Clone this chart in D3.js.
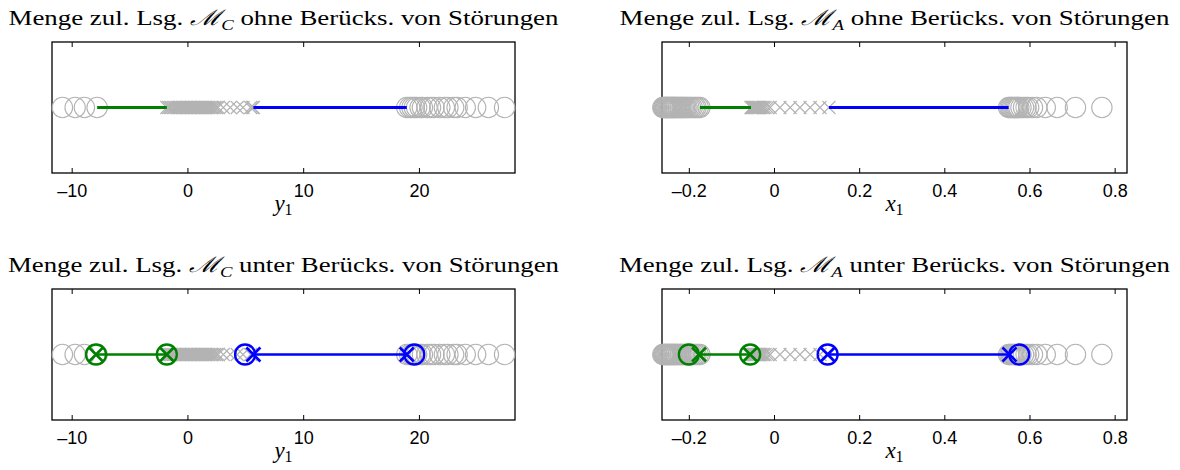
<!DOCTYPE html>
<html>
<head>
<meta charset="utf-8">
<script src="https://cdn.jsdelivr.net/npm/d3@7"></script>
<style>
  body { margin:0; background:#fff; }
  svg { display:block; }
</style>
</head>
<body>
<svg id="chart" width="1180" height="470"></svg>
<script>
// --- data ---
// y1 (controller) axis, left column
var yGrayCircles = [-10.8, -9.7, -8.9, -7.8, 18.95, 19.2, 19.4, 19.6, 19.8, 20.1, 20.3, 20.7, 21.0, 21.3, 21.8, 22.2, 22.5, 23.0, 23.3, 24.0, 24.9, 26.0, 27.4];
var yGrayCrosses = [-1.78, -1.62, -1.48, -1.35, -1.2, -1.08, -0.95, -0.82, -0.7, -0.58, -0.45, -0.33, -0.2, -0.1, 0.02, 0.15, 0.27, 0.38, 0.5, 0.62,
                    0.75, 0.86, 0.97, 1.1, 1.22, 1.33, 1.45, 1.58, 1.7, 1.83, 1.95, 2.08, 2.2, 2.35, 2.5, 2.65, 3.1, 3.7, 4.3, 4.8, 5.45, 5.6, 5.7];
var yGreenRange = [-7.8, -1.78];
var yBlueRange = [5.7, 18.95];
var yGreenRobust = [-7.9, -1.78];   // circles, bottom panel
var yBlueRobust = [4.98, 19.6];
var yTicks = [-10, 0, 10, 20];

// x1 (state) axis, right column
var xGrayCircles = [-0.261, -0.259, -0.257, -0.255, -0.253, -0.251, -0.249, -0.247, -0.245, -0.243, -0.241, -0.239, -0.237, -0.235, -0.233, -0.231,
                    -0.229, -0.226, -0.224, -0.221, -0.219, -0.216, -0.213, -0.21, -0.207, -0.204, -0.2, -0.196, -0.192, -0.187, -0.183, -0.178, -0.174,
                    0.551, 0.554, 0.557, 0.56, 0.563, 0.566, 0.569, 0.572, 0.575, 0.58, 0.586, 0.592, 0.598, 0.607, 0.617, 0.637, 0.665, 0.708, 0.77];
var xGrayCrosses = [-0.054, -0.052, -0.05, -0.048, -0.046, -0.044, -0.042, -0.04, -0.038, -0.036, -0.034, -0.031, -0.028, -0.025, -0.021,
                    -0.015, -0.009, 0.014, 0.038, 0.061, 0.085, 0.108, 0.129];
var xGreenRange = [-0.174, -0.054];
var xBlueRange = [0.129, 0.551];
var xGreenRobustX = [-0.176, -0.056];
var xGreenRobust = [-0.2, -0.056];
var xBlueRobustX = [0.126, 0.553];
var xBlueRobust = [0.126, 0.576];
var xTicks = [-0.2, 0, 0.2, 0.4, 0.6, 0.8];

var gray = "#b3b3b3", green = "#008000", blue = "#0000ff";

var svg = d3.select("#chart");

var panels = [
  {x0:52,  x1:515,  y0:42,  y1:173, dom:[-11.7, 28.3], ticks:yTicks, sub:"C", label:"y", top:true,
   circ:yGrayCircles, cross:yGrayCrosses, g:yGreenRange, b:yBlueRange},
  {x0:662, x1:1127, y0:42,  y1:173, dom:[-0.263, 0.829], ticks:xTicks, sub:"A", label:"x", top:true,
   circ:xGrayCircles, cross:xGrayCrosses, g:xGreenRange, b:xBlueRange},
  {x0:52,  x1:515,  y0:289, y1:420, dom:[-11.7, 28.3], ticks:yTicks, sub:"C", label:"y", top:false,
   circ:yGrayCircles, cross:yGrayCrosses, g:yGreenRobust, b:yBlueRange,
   gX:yGreenRobust, gO:yGreenRobust, bX:yBlueRange, bO:yBlueRobust},
  {x0:662, x1:1127, y0:289, y1:420, dom:[-0.263, 0.829], ticks:xTicks, sub:"A", label:"x", top:false,
   circ:xGrayCircles, cross:xGrayCrosses, g:xGreenRobustX, b:xBlueRobustX,
   gX:xGreenRobustX, gO:xGreenRobust, bX:xBlueRobustX, bO:xBlueRobust}
];

function fmt(d){
  var s = String(+Math.abs(d).toFixed(1));
  return (d < 0 ? "\u2013" : "") + s;
}

function cross(sel, cx, cy, h, col, w){
  sel.append("path")
    .attr("d", "M"+(cx-h)+","+(cy-h)+"L"+(cx+h)+","+(cy+h)+"M"+(cx-h)+","+(cy+h)+"L"+(cx+h)+","+(cy-h))
    .attr("stroke", col).attr("stroke-width", w).attr("fill","none");
}

panels.forEach(function(p){
  var g = svg.append("g");
  var x = d3.scaleLinear().domain(p.dom).range([p.x0, p.x1]);
  var cy = (p.y0 + p.y1)/2;

  // title (CM is wide, so stretch the serif to the same width)
  var t = g.append("text")
    .attr("x", (p.x0+p.x1)/2).attr("y", p.y0 - 17)
    .attr("text-anchor","middle")
    .attr("textLength", p.top ? 550 : 551).attr("lengthAdjust","spacingAndGlyphs")
    .style("font-family","'Liberation Serif', serif").style("font-size","21.5px");
  t.append("tspan").text("Menge zul. Lsg. ");
  t.append("tspan").text("\u2133").style("font-family","'DejaVu Serif', serif").style("font-style","italic");
  t.append("tspan").text(p.sub).attr("dy", 5).style("font-size","15px").style("font-style","italic");
  t.append("tspan").text(p.top ? " ohne Berücks. von Störungen" : " unter Berücks. von Störungen").attr("dy", -5);

  // axes
  var axB = d3.axisBottom(x).tickValues(p.ticks).tickFormat(fmt).tickSizeInner(-5).tickSizeOuter(0).tickPadding(11);
  var gb = g.append("g").attr("transform","translate(0,"+p.y1+")").call(axB);
  gb.select(".domain").remove();
  gb.selectAll("text").style("font-family","'Liberation Sans', Arial, sans-serif").style("font-size","18px").attr("fill","#000");
  var axT = d3.axisTop(x).tickValues(p.ticks).tickFormat("").tickSizeInner(-5).tickSizeOuter(0);
  var gt = g.append("g").attr("transform","translate(0,"+p.y0+")").call(axT);
  gt.select(".domain").remove();

  g.append("rect").attr("x",p.x0).attr("y",p.y0).attr("width",p.x1-p.x0).attr("height",p.y1-p.y0)
    .attr("fill","none").attr("stroke","#000").attr("stroke-width",1.3);

  // axis label
  var lab = g.append("text").attr("x",(p.x0+p.x1)/2).attr("y",p.y1+38).attr("text-anchor","middle")
    .style("font-family","'Liberation Serif', serif").style("font-size","23px");
  lab.append("tspan").text(p.label).style("font-style","italic");
  lab.append("tspan").text("1").attr("dy",4).style("font-size","16px");

  // gray samples
  g.selectAll("circle.gc").data(p.circ).enter().append("circle").attr("class","gc")
    .attr("cx", function(d){ return x(d); }).attr("cy", cy).attr("r", 10.2)
    .attr("fill","none").attr("stroke",gray).attr("stroke-width",1.1);
  p.cross.forEach(function(d){ cross(g, x(d), cy, 6.5, gray, 1.1); });

  var lw = p.top ? 3 : 2.5;
  g.append("line").attr("x1",x(p.g[0])).attr("x2",x(p.g[1])).attr("y1",cy).attr("y2",cy).attr("stroke",green).attr("stroke-width",lw);
  g.append("line").attr("x1",x(p.b[0])).attr("x2",x(p.b[1])).attr("y1",cy).attr("y2",cy).attr("stroke",blue).attr("stroke-width",lw);

  if(!p.top){
    p.gO.forEach(function(d){ g.append("circle").attr("cx",x(d)).attr("cy",cy).attr("r",10).attr("fill","none").attr("stroke",green).attr("stroke-width",2.3); });
    p.gX.forEach(function(d){ cross(g, x(d), cy, 7, green, 2.6); });
    p.bO.forEach(function(d){ g.append("circle").attr("cx",x(d)).attr("cy",cy).attr("r",10).attr("fill","none").attr("stroke",blue).attr("stroke-width",2.3); });
    p.bX.forEach(function(d){ cross(g, x(d), cy, 7, blue, 2.6); });
  }
});
</script>
</body>
</html>
